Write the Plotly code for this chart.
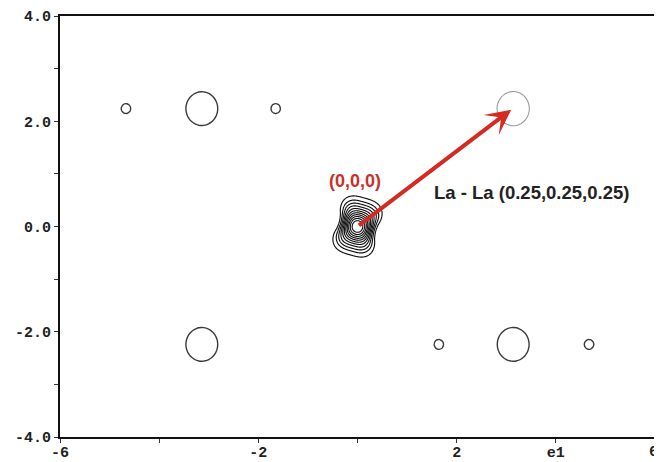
import numpy as np
import plotly.graph_objects as go

# ---- data: Patterson-type peaks (data units) ----
peak_x = [-4.67, -3.14, -1.65, -3.14, 1.64, 3.14, 4.67]
peak_y = [2.24, 2.24, 2.24, -2.24, -2.24, -2.24, -2.24]
peak_height = [1.0, 1.0, 1.0, 1.0, 1.0, 1.0, 1.0]
peak_sigma = [0.08, 0.272, 0.08, 0.272, 0.08, 0.272, 0.08]

faint_x = [3.14]
faint_y = [2.24]
faint_height = [1.0]
faint_sigma = [0.276]

origin_height = 1.0
origin_sigma = 0.238
origin_harm2 = 0.209
origin_harm4 = -0.114
origin_angle_deg = 75.0

x_ticks = [-6, -4, -2, 0, 2, 4, 6]
x_ticktext = ["-6", "", "-2", "", "2", "e1", ""]
x_edge_label = (6, "6")
y_ticks = [-4, -3, -2, -1, 0, 1, 2, 3, 4]
y_ticktext = ["-4.0", "", "-2.0", "", "0.0", "", "2.0", "", "4.0"]

vector_start = (0.0, 0.0)
vector_end = (3.10, 2.22)
label_origin = "(0,0,0)"
label_vector = "La - La (0.25,0.25,0.25)"

# ---- fields ----
gx = np.round(np.arange(-6, 6.0001, 0.05), 3)
gy = np.round(np.arange(-4, 4.0001, 0.05), 3)
GX, GY = np.meshgrid(gx, gy)


def field(xs, ys, hs, ss):
    z = np.zeros_like(GX)
    for px, py, h, s in zip(xs, ys, hs, ss):
        z += h * np.exp(-((GX - px) ** 2 + (GY - py) ** 2) / (2 * s * s))
    return np.round(z, 4)


z_peaks = field(peak_x, peak_y, peak_height, peak_sigma)
z_faint = field(faint_x, faint_y, faint_height, faint_sigma)

cx = np.round(np.arange(-0.9, 0.9001, 0.01), 3)
cy = np.round(np.arange(-0.9, 0.9001, 0.01), 3)
CX, CY = np.meshgrid(cx, cy)
r = np.hypot(CX, CY)
psi = np.arctan2(CY, CX) - np.deg2rad(origin_angle_deg)
k = np.clip((r / 0.42) ** 2, 0, 1)
f = 1 + k * (origin_harm2 * np.cos(2 * psi) + origin_harm4 * np.cos(4 * psi))
reff = r / f
z_origin = np.round(origin_height * np.exp(-reff ** 2 / (2 * origin_sigma ** 2)), 4)

fig = go.Figure()
fig.add_trace(go.Contour(
    x=gx, y=gy, z=z_peaks, showscale=False, hoverinfo="skip",
    contours=dict(start=0.5, end=0.5, size=1, coloring="none"),
    line=dict(color="#3a3a3a", width=1.4, smoothing=0.8),
))
fig.add_trace(go.Contour(
    x=gx, y=gy, z=z_faint, showscale=False, hoverinfo="skip",
    contours=dict(start=0.5, end=0.5, size=1, coloring="none"),
    line=dict(color="#9a9a9a", width=1.1, smoothing=0.8),
))
fig.add_trace(go.Contour(
    x=cx, y=cy, z=z_origin, showscale=False, hoverinfo="skip",
    contours=dict(start=0.1, end=0.92, size=0.08, coloring="none"),
    line=dict(color="#111111", width=1.15, smoothing=0.8),
))

fig.add_annotation(
    x=vector_end[0], y=vector_end[1], ax=vector_start[0], ay=vector_start[1],
    xref="x", yref="y", axref="x", ayref="y", text="", showarrow=True,
    arrowhead=3, arrowsize=1.05, arrowwidth=4, arrowcolor="#d42a22", standoff=0,
)
fig.add_annotation(
    x=-0.05, y=0.86, xref="x", yref="y", text=label_origin, showarrow=False,
    font=dict(family="Liberation Sans, Arial", size=18, color="#c8312b", weight="bold"),
)
fig.add_annotation(
    x=3.5, y=0.65, xref="x", yref="y", text=label_vector, showarrow=False,
    font=dict(family="Liberation Sans, Arial", size=18.5, color="#222222", weight="bold"),
)

tickfont = dict(family="Liberation Mono", size=15, color="#222222", weight="bold")
fig.add_annotation(
    x=x_edge_label[0], y=0, xref="x", yref="paper", text=x_edge_label[1],
    showarrow=False, xanchor="center", yanchor="middle", yshift=-15, xshift=-2,
    font=tickfont,
)
common = dict(
    ticks="outside", ticklen=4, tickwidth=1, tickcolor="#333", showline=True,
    linecolor="#111", linewidth=2, mirror=True, showgrid=False, zeroline=False,
    tickfont=tickfont, automargin=False, ticklabeloverflow="allow",
)
fig.update_xaxes(range=[-6, 6], tickvals=x_ticks, ticktext=x_ticktext,
                 ticklabelstandoff=-4, **common)
fig.update_yaxes(range=[-4, 4], tickvals=y_ticks, ticktext=y_ticktext, **common)
# page body adds an 8px margin, so the figure is sized/margined to compensate
fig.update_layout(
    width=654, height=454, margin=dict(l=52, r=7, t=8, b=25),
    plot_bgcolor="white", paper_bgcolor="white", showlegend=False,
)
fig.write_html("out.html")
